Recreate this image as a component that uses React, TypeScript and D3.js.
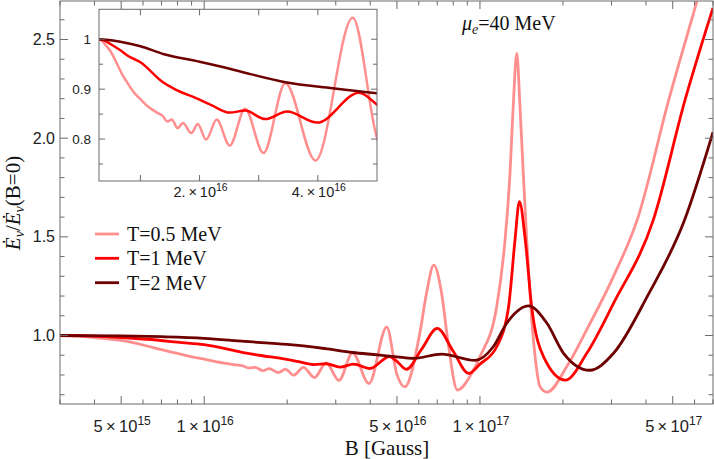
import React, { useEffect, useRef } from "react";
import * as d3 from "d3";

// T = 0.5 MeV
const bHalf = [
  3e15, 3.5e15, 4e15, 5e15, 6e15, 7e15, 8e15, 9e15, 1e16, 1.09e16, 1.2e16, 1.28e16,
  1.37e16, 1.46e16, 1.53e16, 1.63e16, 1.72e16, 1.86e16, 1.97e16, 2.11e16, 2.29e16,
  2.51e16, 2.77e16, 3.08e16, 3.45e16, 3.96e16, 4.59e16, 5e16, 5.34e16, 6.05e16, 6.4e16,
  6.8e16, 7.26e16, 7.67e16, 8.28e16, 9.33e16, 1e17, 1.15e17, 1.233e17, 1.285e17,
  1.32e17, 1.36e17, 1.397e17, 1.436e17, 1.478e17, 1.529e17, 1.585e17, 1.652e17,
  1.75e17, 2.07e17, 2.44e17, 3.05e17, 3.72e17, 4.84e17, 6.14e17, 7e17,
];
const vHalf = [
  1.0, 0.997, 0.99, 0.975, 0.952, 0.928, 0.909, 0.892, 0.88, 0.869, 0.859, 0.853,
  0.847, 0.835, 0.839, 0.822, 0.832, 0.812, 0.83, 0.799, 0.839,
  0.787, 0.861, 0.772, 0.912, 0.757, 1.043, 0.802, 0.74, 1.01, 1.214,
  1.357, 1.214, 0.96, 0.724, 0.808, 0.893, 1.146, 1.484, 1.82,
  2.16, 2.43, 2.16, 1.82, 1.484, 1.146, 0.893, 0.74,
  0.713, 0.845, 1.03, 1.3, 1.587, 2.195, 2.7, 2.98,
];

// T = 1 MeV
const bOne = [
  3e15, 4e15, 5e15, 6.85e15, 8e15, 1e16, 1.37e16, 1.58e16, 1.94e16, 2.2e16, 2.51e16,
  2.77e16, 3.11e16, 3.48e16, 3.99e16, 4.7e16, 5e16, 5.41e16, 6.14e16, 7e16, 8e16,
  9.1e16, 1e17, 1.15e17, 1.27e17, 1.34e17, 1.39e17, 1.46e17, 1.54e17, 1.7e17, 2.04e17,
  2.44e17, 3.05e17, 4.25e17, 5.56e17, 7e17,
];
const vOne = [
  1.0, 0.997, 0.99, 0.976, 0.966, 0.954, 0.915, 0.9, 0.882, 0.868, 0.853,
  0.857, 0.84, 0.855, 0.833, 0.893, 0.869, 0.829, 0.93, 1.036, 0.92,
  0.808, 0.855, 0.943, 1.146, 1.484, 1.678, 1.484, 1.146, 0.893, 0.774,
  0.91, 1.163, 1.585, 2.2, 2.66,
];

// T = 2 MeV
const bTwo = [
  3e15, 5e15, 7e15, 1e16, 1.4e16, 2e16, 2.54e16, 2.8e16, 3.45e16, 4.25e16, 5e16,
  5.72e16, 7.26e16, 9.6e16, 1.117e17, 1.25e17, 1.5e17, 1.75e17, 2.01e17, 2.5e17,
  3.05e17, 4.04e17, 5.52e17, 7e17,
];
const vTwo = [
  1.0, 0.998, 0.994, 0.986, 0.97, 0.955, 0.94, 0.932, 0.914, 0.902, 0.892,
  0.884, 0.906, 0.874, 0.943, 1.062, 1.15, 1.062, 0.91, 0.824,
  0.91, 1.197, 1.585, 2.03,
];

const seriesNames = ["T=0.5 MeV", "T=1 MeV", "T=2 MeV"];
const seriesColors = ["#ff8f8f", "#ff0000", "#6e0000"];

// tick values
const xMajor = [
  { v: 5e15, m: "5", e: "15" },
  { v: 1e16, m: "1", e: "16" },
  { v: 5e16, m: "5", e: "16" },
  { v: 1e17, m: "1", e: "17" },
  { v: 5e17, m: "5", e: "17" },
];
const xMinor = [
  3e15, 4e15, 6e15, 7e15, 8e15, 9e15, 2e16, 3e16, 4e16, 6e16, 7e16, 8e16, 9e16,
  2e17, 3e17, 4e17, 6e17, 7e17,
];
const yMajor = [1.0, 1.5, 2.0, 2.5];
const yMinor = [0.7, 0.8, 0.9, 1.1, 1.2, 1.3, 1.4, 1.6, 1.7, 1.8, 1.9, 2.1, 2.2, 2.3, 2.4, 2.6];
const insetXMajor = [
  { v: 2e16, m: "2.", e: "16" },
  { v: 4e16, m: "4.", e: "16" },
];
const insetXMinor = [1e16, 3e16];
const insetYMajor = [
  { v: 1.0, t: "1" },
  { v: 0.9, t: "0.9" },
  { v: 0.8, t: "0.8" },
];
const insetYMinor = [0.75, 0.85, 0.95];

const frameColor = "#6a6a6a";
const labelColor = "#222";
const sans = "'Liberation Sans', Arial, sans-serif";
const serif = "'Liberation Serif', 'Times New Roman', serif";

const Chart = ({ width = 714, height = 459 }) => {
  const ref = useRef(null);

  useEffect(() => {
    const svg = d3.select(ref.current).attr("width", width).attr("height", height);
    svg.selectAll("*").remove();

    const series = [
      bHalf.map((b, i) => ({ b, v: vHalf[i] })),
      bOne.map((b, i) => ({ b, v: vOne[i] })),
      bTwo.map((b, i) => ({ b, v: vTwo[i] })),
    ];

    const L = 60, R = 713, T = 1, B = 404;
    const x = d3.scaleLog().domain([3e15, 7e17]).range([L, R]);
    const y = d3.scaleLinear().domain([0.653, 2.695]).range([B, T]);

    const defs = svg.append("defs");
    defs.append("clipPath").attr("id", "mainClip")
      .append("rect").attr("x", L).attr("y", T).attr("width", R - L).attr("height", B - T);

    const line = d3.line()
      .x((d) => x(d.b))
      .y((d) => y(d.v))
      .curve(d3.curveMonotoneX);

    const g = svg.append("g").attr("clip-path", "url(#mainClip)");
    series.forEach((s, i) => {
      g.append("path")
        .attr("d", line(s))
        .attr("fill", "none")
        .attr("stroke", seriesColors[i])
        .attr("stroke-width", 2.8)
        .attr("stroke-linejoin", "round");
    });

    // frame + ticks
    const frame = svg.append("g").attr("stroke", frameColor).attr("stroke-width", 1);
    frame.append("rect").attr("x", L).attr("y", T).attr("width", R - L).attr("height", B - T)
      .attr("fill", "none");
    const vTicks = (vals, len) => {
      vals.forEach((v) => {
        const px = x(v);
        frame.append("line").attr("x1", px).attr("x2", px).attr("y1", B).attr("y2", B - len);
        frame.append("line").attr("x1", px).attr("x2", px).attr("y1", T).attr("y2", T + len);
      });
    };
    vTicks(xMajor.map((d) => d.v), 8);
    vTicks(xMinor, 4.5);
    const hTicks = (vals, len) => {
      vals.forEach((v) => {
        const py = y(v);
        frame.append("line").attr("x1", L).attr("x2", L + len).attr("y1", py).attr("y2", py);
        frame.append("line").attr("x1", R).attr("x2", R - len).attr("y1", py).attr("y2", py);
      });
    };
    hTicks(yMajor, 8);
    hTicks(yMinor, 4.5);

    const sci = (parent, px, py, d, fs, supFs, supDy) => {
      const t = parent.append("text")
        .attr("x", px).attr("y", py)
        .attr("text-anchor", "middle")
        .attr("font-family", sans)
        .attr("font-size", fs)
        .attr("fill", labelColor);
      t.append("tspan").text(`${d.m}\u2009\u00d7\u200910`);
      t.append("tspan").attr("dy", -supDy).attr("font-size", supFs).text(d.e);
    };

    xMajor.forEach((d) => sci(svg, x(d.v) + 1, 432, d, 16.5, 12, 7));
    yMajor.forEach((v) => {
      svg.append("text")
        .attr("x", 55).attr("y", y(v) + 5.6)
        .attr("text-anchor", "end")
        .attr("font-family", sans)
        .attr("font-size", 16)
        .attr("fill", labelColor)
        .text(v.toFixed(1));
    });

    // axis titles
    svg.append("text")
      .attr("x", 387).attr("y", 455)
      .attr("text-anchor", "middle")
      .attr("font-family", serif)
      .attr("font-size", 21)
      .attr("fill", "#111")
      .text("B [Gauss]");

    const yt = svg.append("text")
      .attr("transform", "translate(20,203) rotate(-90)")
      .attr("text-anchor", "middle")
      .attr("font-family", serif)
      .attr("font-size", 21)
      .attr("fill", "#111");
    yt.append("tspan").attr("font-style", "italic").text("\u0116");
    yt.append("tspan").attr("dy", 4).attr("font-size", 14).attr("font-style", "italic").text("\u03bd");
    yt.append("tspan").attr("dy", -4).text("/");
    yt.append("tspan").attr("font-style", "italic").text("\u0116");
    yt.append("tspan").attr("dy", 4).attr("font-size", 14).attr("font-style", "italic").text("\u03bd");
    yt.append("tspan").attr("dy", -4).text("(B=0)");

    // mu_e annotation
    const mu = svg.append("text")
      .attr("x", 462).attr("y", 29.5)
      .attr("font-family", serif)
      .attr("font-size", 20)
      .attr("fill", "#111");
    mu.append("tspan").attr("font-style", "italic").text("\u03bc");
    mu.append("tspan").attr("dy", 4).attr("font-size", 14).attr("font-style", "italic").text("e");
    mu.append("tspan").attr("dy", -4).text("=40 MeV");

    // legend
    const rows = [234, 258.3, 282.7];
    seriesNames.forEach((name, i) => {
      svg.append("line")
        .attr("x1", 95).attr("x2", 119)
        .attr("y1", rows[i]).attr("y2", rows[i])
        .attr("stroke", seriesColors[i])
        .attr("stroke-width", 2.8);
      svg.append("text")
        .attr("x", 127).attr("y", rows[i] + 7)
        .attr("font-family", serif)
        .attr("font-size", 20)
        .attr("fill", "#111")
        .text(name);
    });

    // inset
    const iL = 99, iR = 377, iT = 9.3, iB = 181;
    const xi = d3.scaleLinear().domain([3e15, 5e16]).range([iL, iR]);
    const yi = d3.scaleLinear().domain([0.716, 1.06]).range([iB, iT]);
    defs.append("clipPath").attr("id", "insetClip")
      .append("rect").attr("x", iL).attr("y", iT).attr("width", iR - iL).attr("height", iB - iT);

    svg.append("rect").attr("x", iL).attr("y", iT).attr("width", iR - iL).attr("height", iB - iT)
      .attr("fill", "#fff");

    const iline = d3.line()
      .x((d) => xi(d.b))
      .y((d) => yi(d.v))
      .curve(d3.curveMonotoneX);
    const gi = svg.append("g").attr("clip-path", "url(#insetClip)");
    series.forEach((s, i) => {
      gi.append("path")
        .attr("d", iline(s.filter((d) => d.b <= 6.1e16)))
        .attr("fill", "none")
        .attr("stroke", seriesColors[i])
        .attr("stroke-width", 2.5)
        .attr("stroke-linejoin", "round");
    });

    const iframe = svg.append("g").attr("stroke", frameColor).attr("stroke-width", 1);
    iframe.append("rect").attr("x", iL).attr("y", iT).attr("width", iR - iL).attr("height", iB - iT)
      .attr("fill", "none");
    [...insetXMajor.map((d) => d.v), ...insetXMinor].forEach((v) => {
      const px = xi(v);
      iframe.append("line").attr("x1", px).attr("x2", px).attr("y1", iB).attr("y2", iB - 6);
      iframe.append("line").attr("x1", px).attr("x2", px).attr("y1", iT).attr("y2", iT + 6);
    });
    insetYMajor.forEach((d) => {
      const py = yi(d.v);
      iframe.append("line").attr("x1", iL).attr("x2", iL + 6).attr("y1", py).attr("y2", py);
      iframe.append("line").attr("x1", iR).attr("x2", iR - 6).attr("y1", py).attr("y2", py);
    });
    insetYMinor.forEach((v) => {
      const py = yi(v);
      iframe.append("line").attr("x1", iL).attr("x2", iL + 4).attr("y1", py).attr("y2", py);
      iframe.append("line").attr("x1", iR).attr("x2", iR - 4).attr("y1", py).attr("y2", py);
    });

    insetXMajor.forEach((d) => sci(svg, xi(d.v) + 1, 197, d, 14.5, 10.5, 6));
    insetYMajor.forEach((d) => {
      svg.append("text")
        .attr("x", 91).attr("y", yi(d.v) + 4.7)
        .attr("text-anchor", "end")
        .attr("font-family", sans)
        .attr("font-size", 13.5)
        .attr("fill", labelColor)
        .text(d.t);
    });
  }, [width, height]);

  return <svg ref={ref} style={{ position: "absolute", left: 0, top: 0 }}></svg>;
};

export default function App() {
  return (
    <div>
      <Chart />
    </div>
  );
}
